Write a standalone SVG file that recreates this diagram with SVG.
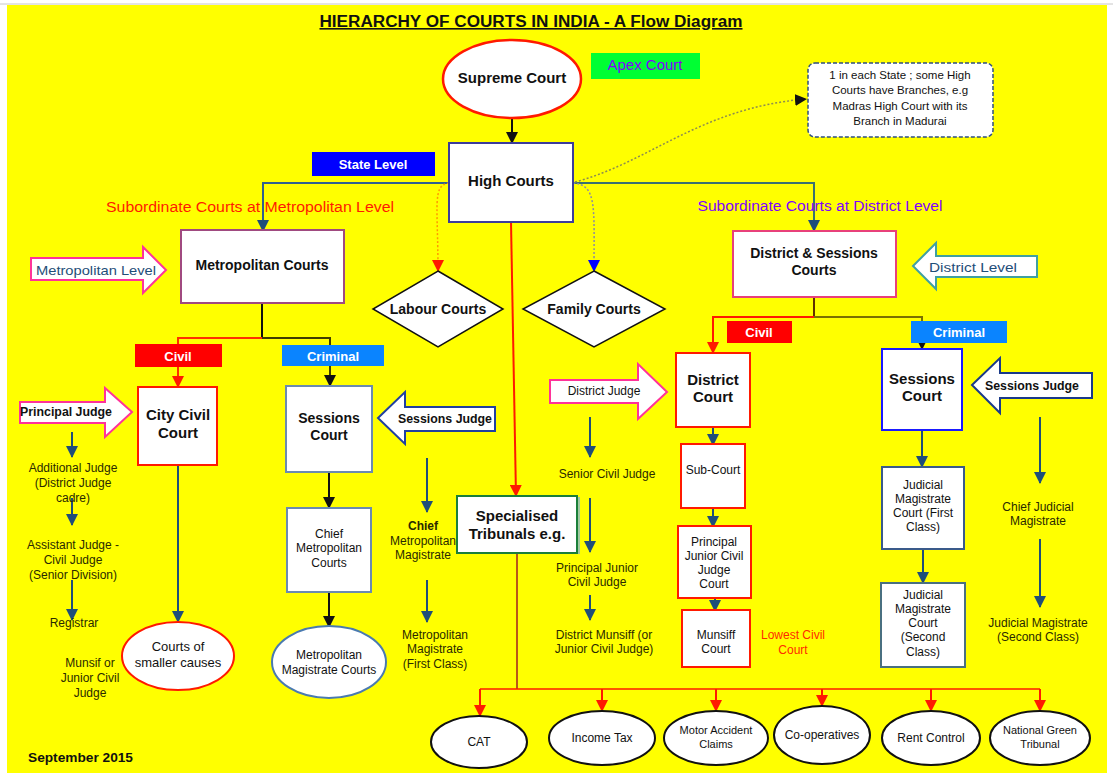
<svg xmlns="http://www.w3.org/2000/svg" width="1113" height="775" viewBox="0 0 1113 775">
<defs>
<style>
text{font-family:"Liberation Sans",Arial,sans-serif;fill:#111}
.b{font-weight:bold}
.c{text-anchor:middle}
.box{fill:#fff;stroke-width:2}
.lbl{font-size:12px;fill:#2a2a00;text-anchor:middle}
.con{fill:none;stroke-width:2}
.blu{stroke:#1f4e79}
.blk{stroke:#111}
.red{stroke:#ff1a00}
.ell{fill:#fff;stroke:#111;stroke-width:2}
.barr{fill:#fff;stroke-width:2}
.wt{fill:#fff;font-weight:bold;text-anchor:middle;font-size:13px}
</style>
<marker id="mb" markerUnits="userSpaceOnUse" markerWidth="12" markerHeight="12" refX="11" refY="6" orient="auto"><path d="M0,0 L12,6 L0,12 z" fill="#1f4e79"/></marker>
<marker id="mk" markerUnits="userSpaceOnUse" markerWidth="12" markerHeight="12" refX="11" refY="6" orient="auto"><path d="M0,0 L12,6 L0,12 z" fill="#111"/></marker>
<marker id="mr" markerUnits="userSpaceOnUse" markerWidth="12" markerHeight="12" refX="11" refY="6" orient="auto"><path d="M0,0 L12,6 L0,12 z" fill="#ff1a00"/></marker>
<marker id="mbb" markerUnits="userSpaceOnUse" markerWidth="12" markerHeight="12" refX="11" refY="6" orient="auto"><path d="M0,0 L12,6 L0,12 z" fill="#0000ff"/></marker>
</defs>
<rect x="0" y="0" width="1113" height="775" fill="#fff"/>
<rect x="7" y="5" width="1100" height="768" fill="#ffff00"/>
<line x1="0" y1="4" x2="1113" y2="4" stroke="#c8c8c8"/>

<g id="title"><text x="531" y="27" class="b c" font-size="16" text-decoration="underline" textLength="423" lengthAdjust="spacingAndGlyphs">HIERARCHY OF COURTS IN INDIA -  A Flow Diagram</text></g>

<g id="connectors">
<line x1="512" y1="118" x2="512" y2="143" class="con blk" marker-end="url(#mk)"/>
<path d="M449,183 H263 V231" class="con" stroke="#2f6090" marker-end="url(#mb)"/>
<path d="M573,183 H814 V231" class="con" stroke="#3a7070" marker-end="url(#mb)"/>
<path d="M575,182 C650,162 700,108 806,99" fill="none" stroke="#8c8c50" stroke-width="1.5" stroke-dasharray="2,2" marker-end="url(#mk)"/>
<path d="M449,183 C432,185 438,205 438,271" fill="none" stroke="#ff9900" stroke-width="1.5" stroke-dasharray="2,2" marker-end="url(#mr)"/>
<path d="M573,183 C597,185 594,205 594,271" fill="none" stroke="#8c8ca0" stroke-width="1.5" stroke-dasharray="2,2" marker-end="url(#mbb)"/>
<path d="M511,222 L516,496" class="con red" marker-end="url(#mr)"/>
<path d="M262,303 V338" class="con blk"/>
<path d="M262,338 H178 V387" class="con" stroke="#ff3000" marker-end="url(#mr)"/>
<path d="M262,338 H330 V386" class="con" stroke="#403c00" marker-end="url(#mk)"/>
<path d="M178,465 V622" class="con blu" marker-end="url(#mb)"/>
<path d="M329,472 V508" class="con blk" marker-end="url(#mk)"/>
<path d="M329,592 V627" class="con blk" marker-end="url(#mk)"/>
<path d="M814,297 V317" class="con" stroke="#603000"/>
<path d="M814,317 H713 V353" class="con red" marker-end="url(#mr)"/>
<path d="M814,317 H922 V349" class="con" stroke="#7a7000" marker-end="url(#mk)"/>
<path d="M713,427 V445" class="con blu" marker-end="url(#mb)"/>
<path d="M713,508 V527" class="con blu" marker-end="url(#mb)"/>
<path d="M715,598 V611" class="con blu" marker-end="url(#mb)"/>
<path d="M922,430 V467" class="con blu" marker-end="url(#mb)"/>
<path d="M923,549 V583" class="con blu" marker-end="url(#mb)"/>
<path d="M72,432 V457" class="con blu" marker-end="url(#mb)"/>
<path d="M72,498 V525" class="con blu" marker-end="url(#mb)"/>
<path d="M72,580 V620" class="con blu" marker-end="url(#mb)"/>
<path d="M427,458 V512" class="con blu" marker-end="url(#mb)"/>
<path d="M427,580 V622" class="con blu" marker-end="url(#mb)"/>
<path d="M590,417 V457" class="con blu" marker-end="url(#mb)"/>
<path d="M590,498 V552" class="con blu" marker-end="url(#mb)"/>
<path d="M590,595 V620" class="con blu" marker-end="url(#mb)"/>
<path d="M1040,417 V483" class="con blu" marker-end="url(#mb)"/>
<path d="M1040,539 V607" class="con blu" marker-end="url(#mb)"/>
<path d="M517,553 V689" fill="none" stroke="#a02020" stroke-width="1.5"/>
<path d="M480,689 H1040" fill="none" stroke="#ff1a00" stroke-width="1.5"/>
<path d="M480,689 V716" class="con red" marker-end="url(#mr)"/>
<path d="M602,689 V711" class="con red" marker-end="url(#mr)"/>
<path d="M716,689 V711" class="con red" marker-end="url(#mr)"/>
<path d="M822,689 V706" class="con red" marker-end="url(#mr)"/>
<path d="M931,689 V711" class="con red" marker-end="url(#mr)"/>
<path d="M1040,689 V711" class="con red" marker-end="url(#mr)"/>
</g>

<g id="supreme"><ellipse cx="512" cy="79" rx="69" ry="39" fill="#fff" stroke="#ff1a00" stroke-width="2.5"/><text x="512" y="83" class="b c" font-size="15">Supreme Court</text></g>
<g id="apex"><rect x="591" y="53" width="109" height="26" fill="#00ff33"/><text x="645" y="70" class="c" font-size="15" style="fill:#8000ff">Apex Court</text></g>
<g id="note"><rect x="808" y="63" width="185" height="74" rx="7" fill="#fff" stroke="#2f4f7f" stroke-width="1.5" stroke-dasharray="4,2"/>
<text class="c" font-size="11.5" x="900" y="79">1 in each State ; some High</text>
<text class="c" font-size="11.5" x="900" y="94">Courts have Branches,  e.g</text>
<text class="c" font-size="11.5" x="900" y="110">Madras High Court with its</text>
<text class="c" font-size="11.5" x="900" y="125">Branch in Madurai</text></g>
<g id="state-level"><rect x="312" y="152" width="123" height="24" fill="#0000ff"/><text x="373" y="169" class="wt" font-size="15">State Level</text></g>
<g id="high"><rect x="449" y="143" width="124" height="79" class="box" stroke="#3c3c9c"/><text x="511" y="186" class="b c" font-size="15">High Courts</text></g>

<g id="sub-metro-label"><text x="250" y="212" class="c" font-size="14" textLength="288" lengthAdjust="spacingAndGlyphs" style="fill:#ff1a00">Subordinate Courts at Metropolitan Level</text></g>
<g id="sub-district-label"><text x="820" y="211" class="c" font-size="14" textLength="245" lengthAdjust="spacingAndGlyphs" style="fill:#8000ff">Subordinate Courts at District Level</text></g>

<g id="metro"><rect x="181" y="230" width="163" height="73" class="box" stroke="#a04a80"/><text x="262" y="270" class="b c" font-size="14">Metropolitan Courts</text></g>
<g id="metro-level"><polygon points="31,258 143,258 143,247 166,270 143,293 143,280 31,280" class="barr" stroke="#ff3399"/><text x="96" y="275" class="c" font-size="13" textLength="120" lengthAdjust="spacingAndGlyphs" style="fill:#1f4e79">Metropolitan Level</text></g>

<g id="labour"><polygon points="438,271 503,309 438,347 373,309" fill="#fff" stroke="#111" stroke-width="1.5"/><text x="438" y="314" class="b c" font-size="14">Labour Courts</text></g>
<g id="family"><polygon points="594,271 665,309 594,347 523,309" fill="#fff" stroke="#111" stroke-width="1.5"/><text x="594" y="314" class="b c" font-size="14">Family Courts</text></g>

<g id="district-sessions"><rect x="733" y="231" width="163" height="66" class="box" stroke="#e8407a"/><text x="814" y="258" class="b c" font-size="14">District &amp; Sessions</text><text x="814" y="275" class="b c" font-size="14">Courts</text></g>
<g id="district-level"><polygon points="913,266 936,243 936,256 1037,256 1037,277 936,277 936,289" class="barr" stroke="#40a0a0"/><text x="973" y="272" class="c" font-size="13" textLength="88" lengthAdjust="spacingAndGlyphs" style="fill:#1f4e79">District Level</text></g>

<g id="civil-metro"><rect x="135" y="344" width="87" height="23" fill="#ff0000"/><text x="178" y="361" class="wt">Civil</text></g>
<g id="criminal-metro"><rect x="282" y="345" width="102" height="21" fill="#0a84ff"/><text x="333" y="361" class="wt">Criminal</text></g>
<g id="civil-dist"><rect x="727" y="321" width="65" height="22" fill="#ff0000"/><text x="759" y="337" class="wt">Civil</text></g>
<g id="criminal-dist"><rect x="911" y="321" width="96" height="22" fill="#0a84ff"/><text x="959" y="337" class="wt">Criminal</text></g>

<g id="city-civil"><rect x="138" y="387" width="79" height="78" class="box" stroke="#ff1a00"/><text x="178" y="420" class="b c" font-size="15">City Civil</text><text x="178" y="438" class="b c" font-size="15">Court</text></g>
<g id="principal-judge"><polygon points="20,402 105,402 105,388 132,412 105,437 105,423 20,423" class="barr" stroke="#ff3399"/><text x="66" y="416" class="b c" font-size="12" textLength="92" lengthAdjust="spacingAndGlyphs">Principal Judge</text></g>
<g id="left-ladder">
<text class="lbl" x="73" y="472">Additional Judge</text><text class="lbl" x="73" y="487">(District Judge</text><text class="lbl" x="73" y="502">cadre)</text>
<text class="lbl" x="73" y="549">Assistant Judge  -</text><text class="lbl" x="73" y="564">Civil Judge</text><text class="lbl" x="73" y="579">(Senior Division)</text>
<text class="lbl" x="74" y="627">Registrar</text>
<text class="lbl" x="90" y="667">Munsif or</text><text class="lbl" x="90" y="682">Junior Civil</text><text class="lbl" x="90" y="697">Judge</text></g>
<g id="smaller-causes"><ellipse cx="178" cy="656" rx="56" ry="34" fill="#fff" stroke="#ff1a00" stroke-width="2"/><text x="178" y="651" class="c" font-size="13">Courts of</text><text x="178" y="667" class="c" font-size="13">smaller causes</text></g>

<g id="sessions-metro"><rect x="286" y="386" width="86" height="86" class="box" stroke="#6a8ab0"/><text x="329" y="423" class="b c" font-size="14">Sessions</text><text x="329" y="440" class="b c" font-size="14">Court</text></g>
<g id="sessions-judge-metro"><polygon points="378,418 405,392 405,407 495,407 495,431 405,431 405,444" class="barr" stroke="#2040a0"/><text x="445" y="423" class="b c" font-size="12" textLength="94" lengthAdjust="spacingAndGlyphs">Sessions Judge</text></g>
<g id="chief-metro"><rect x="287" y="508" width="84" height="84" class="box" stroke="#6a8ab0"/><text x="329" y="538" class="c" font-size="12">Chief</text><text x="329" y="552" class="c" font-size="12">Metropolitan</text><text x="329" y="567" class="c" font-size="12">Courts</text></g>
<g id="mm-courts"><ellipse cx="329" cy="662" rx="57" ry="36" fill="#fff" stroke="#4a7ab0" stroke-width="2"/><text x="329" y="659" class="c" font-size="12">Metropolitan</text><text x="329" y="674" class="c" font-size="12">Magistrate Courts</text></g>
<g id="metro-crim-ladder">
<text class="lbl b" x="423" y="530">Chief</text><text class="lbl" x="423" y="545">Metropolitan</text><text class="lbl" x="423" y="559">Magistrate</text>
<text class="lbl" x="435" y="639">Metropolitan</text><text class="lbl" x="435" y="653">Magistrate</text><text class="lbl" x="435" y="668">(First Class)</text></g>

<g id="specialised"><rect x="457" y="496" width="120" height="57" class="box" stroke="#1a7f3a"/><line x1="579" y1="497" x2="579" y2="554" stroke="#a0c8a0" stroke-width="2"/><text x="517" y="521" class="b c" font-size="15">Specialised</text><text x="517" y="539" class="b c" font-size="15">Tribunals e.g.</text></g>

<g id="district-judge"><polygon points="550,380 638,380 638,364 667,392 638,419 638,403 550,403" class="barr" stroke="#ff3399"/><text x="604" y="395" class="c" font-size="12">District Judge</text></g>
<g id="district-civil-ladder">
<text class="lbl" x="607" y="478">Senior Civil Judge</text>
<text class="lbl" x="597" y="572">Principal Junior</text><text class="lbl" x="597" y="586">Civil Judge</text>
<text class="lbl" x="604" y="639">District Munsiff (or</text><text class="lbl" x="604" y="653">Junior Civil Judge)</text></g>

<g id="district-court"><rect x="676" y="353" width="74" height="74" class="box" stroke="#ff1a00"/><text x="713" y="385" class="b c" font-size="15">District</text><text x="713" y="402" class="b c" font-size="15">Court</text></g>
<g id="sub-court"><rect x="681" y="444" width="64" height="64" class="box" stroke="#ff1a00"/><text x="713" y="474" class="c" font-size="12">Sub-Court</text></g>
<g id="pjcj-court"><rect x="678" y="526" width="73" height="72" class="box" stroke="#ff1a00"/><text x="714" y="546" class="c" font-size="12">Principal</text><text x="714" y="560" class="c" font-size="12">Junior Civil</text><text x="714" y="574" class="c" font-size="12">Judge</text><text x="714" y="588" class="c" font-size="12">Court</text></g>
<g id="munsiff-court"><rect x="682" y="610" width="68" height="57" class="box" stroke="#ff1a00"/><text x="716" y="639" class="c" font-size="12">Munsiff</text><text x="716" y="653" class="c" font-size="12">Court</text></g>
<g id="lowest-civil"><text x="793" y="639" class="c" font-size="12" style="fill:#ff2a00">Lowest Civil</text><text x="793" y="654" class="c" font-size="12" style="fill:#ff2a00">Court</text></g>

<g id="sessions-dist"><rect x="882" y="349" width="80" height="81" class="box" stroke="#1a1aff"/><text x="922" y="384" class="b c" font-size="15">Sessions</text><text x="922" y="401" class="b c" font-size="15">Court</text></g>
<g id="sessions-judge-dist"><polygon points="972,385 1000,358 1000,373 1092,373 1092,398 1000,398 1000,413" class="barr" stroke="#1a3a8a"/><text x="1032" y="390" class="b c" font-size="12" textLength="94" lengthAdjust="spacingAndGlyphs">Sessions Judge</text></g>
<g id="jmfc"><rect x="882" y="467" width="82" height="82" class="box" stroke="#3a5a8a"/><text x="923" y="489" class="c" font-size="12">Judicial</text><text x="923" y="503" class="c" font-size="12">Magistrate</text><text x="923" y="517" class="c" font-size="12">Court (First</text><text x="923" y="531" class="c" font-size="12">Class)</text></g>
<g id="jmsc"><rect x="881" y="583" width="84" height="84" class="box" stroke="#4a7080"/><text x="923" y="599" class="c" font-size="12">Judicial</text><text x="923" y="613" class="c" font-size="12">Magistrate</text><text x="923" y="627" class="c" font-size="12">Court</text><text x="923" y="641" class="c" font-size="12">(Second</text><text x="923" y="656" class="c" font-size="12">Class)</text></g>
<g id="dist-crim-ladder">
<text class="lbl" x="1038" y="511">Chief Judicial</text><text class="lbl" x="1038" y="525">Magistrate</text>
<text class="lbl" x="1038" y="627">Judicial Magistrate</text><text class="lbl" x="1038" y="641">(Second Class)</text></g>

<g id="cat"><ellipse cx="479" cy="742" rx="48" ry="26" class="ell"/><text x="479" y="746" class="c" font-size="12">CAT</text></g>
<g id="income-tax"><ellipse cx="602" cy="738" rx="53" ry="27" class="ell"/><text x="602" y="742" class="c" font-size="12">Income Tax</text></g>
<g id="motor"><ellipse cx="716" cy="738" rx="52" ry="27" class="ell"/><text x="716" y="734" class="c" font-size="11">Motor Accident</text><text x="716" y="748" class="c" font-size="11">Claims</text></g>
<g id="coop"><ellipse cx="822" cy="735" rx="48" ry="29" class="ell"/><text x="822" y="739" class="c" font-size="12">Co-operatives</text></g>
<g id="rent"><ellipse cx="931" cy="738" rx="49" ry="27" class="ell"/><text x="931" y="742" class="c" font-size="12">Rent Control</text></g>
<g id="ngt"><ellipse cx="1040" cy="738" rx="50" ry="27" class="ell"/><text x="1040" y="734" class="c" font-size="11">National Green</text><text x="1040" y="748" class="c" font-size="11">Tribunal</text></g>

<g id="date"><text x="28" y="762" class="b" font-size="12" textLength="105" lengthAdjust="spacingAndGlyphs">September 2015</text></g>
</svg>
